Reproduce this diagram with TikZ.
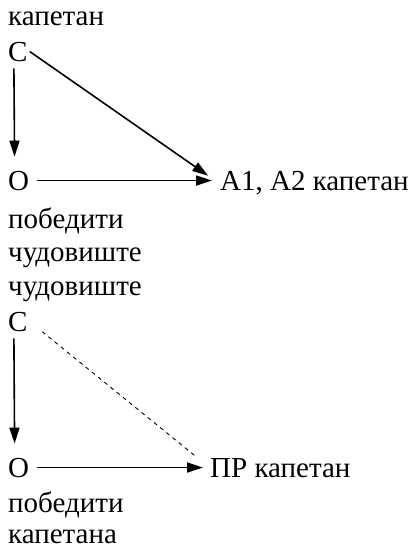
\documentclass[tikz,border=0pt]{standalone}
\usepackage{fontspec}
\setmainfont{Liberation Serif}
\usetikzlibrary{arrows.meta}
\begin{document}
\begin{tikzpicture}[
  x=1pt, y=-1pt,
  every node/.style={font=\fontsize{29}{33}\selectfont, anchor=base west, inner sep=2pt},
  arr/.style={draw, line width=1.6pt, -{Triangle[length=16pt,width=10pt]}},
  rel/.style={draw, line width=0.9pt, dash pattern=on 4pt off 4pt}
]
\useasboundingbox (0,0) rectangle (411,550);

% upper diagram
\node (capt1) at (6,25) {капетан};
\node (c1) at (6,61) {С};
\node (o1) at (6,190) {О};
\node (a1) at (218,190) {А1, А2 капетан};
\node (win1) at (6,228) {победити};
\node (mon1) at (6,261) {чудовиште};

\draw[arr, shorten >=12pt] (c1.east) -- (a1.west);
\draw[arr, shorten <=5pt, shorten >=12pt] ([xshift=-4pt]c1.south) -- ([xshift=-4pt]o1.north);
\draw[arr, shorten <=6pt, shorten >=6pt] (o1.east) -- (a1.west |- o1.east);

% lower diagram
\node (mon2) at (6,295) {чудовиште};
\node (c2) at (6,331) {С};
\node (o2) at (6,477) {О};
\node (pr) at (208,477) {ПР капетан};
\node (win2) at (6,512) {победити};
\node (capt2) at (6,543) {капетана};

\draw[rel, shorten <=16pt] (c2.east) -- ([xshift=-13pt]pr.north west);
\draw[arr, shorten <=5pt, shorten >=12pt] ([xshift=-4pt]c2.south) -- ([xshift=-4pt]o2.north);
\draw[arr, shorten <=6pt, shorten >=5pt] (o2.east) -- (pr.west |- o2.east);

\end{tikzpicture}
\end{document}
